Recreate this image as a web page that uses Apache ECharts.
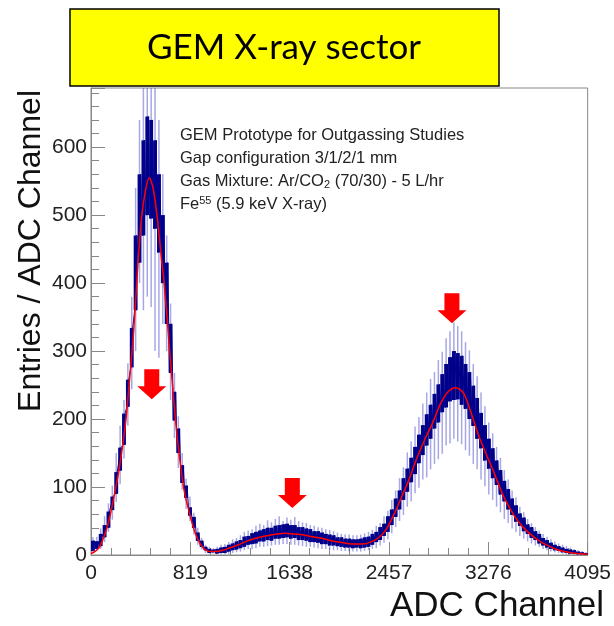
<!DOCTYPE html>
<html><head><meta charset="utf-8">
<script src="https://cdn.jsdelivr.net/npm/echarts@6/dist/echarts.min.js"></script>
<style>html,body{margin:0;padding:0;background:#fff}#c{width:614px;height:626px}</style>
</head><body><div id="c"></div>
<script>
// ---- data ----
const channelsPerSample = 32; // each sample covers 32 ADC channels
const xTickValues = [0, 819, 1638, 2457, 3276, 4095];
// dense (dark blue) band of the histogram: low / high edge per sample
const bandLow = [6, 9, 13, 26, 40, 66, 90, 124, 162, 218, 276, 360, 430, 470, 500, 495, 480, 445, 400, 340, 268, 198, 150, 106, 84, 58, 40, 21, 12, 7, 3, 4,
  2, 3, 3, 5, 7, 8, 10, 12, 15, 16, 17, 20, 20, 22, 21, 24, 24, 25, 26, 24, 25, 22, 22, 21, 19, 19, 18, 16, 16, 14, 14, 13, 12, 11, 11, 10, 11, 10, 11,
  12, 15, 19, 22, 28, 34, 44, 56, 67, 81, 93, 107, 119, 135, 147, 161, 171, 186, 195, 210, 217, 226, 228, 229, 221, 215, 200, 190, 171, 157, 139, 127, 113, 103, 89, 79, 67, 59, 49, 43, 35, 31, 25, 22, 17, 14, 11, 9, 7, 6, 4, 3, 2, 2, 1, 1, 0];
const bandHigh = [21, 20, 31, 44, 64, 86, 122, 158, 208, 258, 334, 470, 560, 610, 645, 640, 610, 560, 500, 430, 340, 240, 186, 132, 102, 70, 56, 33, 21, 12, 9, 8,
  9, 11, 12, 15, 17, 20, 22, 27, 28, 32, 34, 36, 38, 40, 40, 43, 44, 45, 46, 44, 44, 41, 41, 39, 38, 35, 35, 33, 31, 30, 29, 26, 26, 24, 24, 23, 23, 24, 26,
  27, 31, 34, 41, 46, 57, 67, 83, 95, 113, 127, 143, 159, 177, 191, 207, 221, 237, 251, 266, 281, 291, 300, 297, 293, 281, 269, 249, 231, 209, 191, 171, 157, 139, 125, 109, 97, 83, 73, 61, 55, 45, 41, 35, 31, 25, 22, 18, 15, 13, 11, 9, 8, 7, 5, 4, 3];
// light blue fluctuation spikes: low / high extreme per sample
const spikeLow = [4, 6, 9, 19, 34, 52, 78, 104, 142, 190, 244, 300, 400, 360, 380, 365, 300, 290, 340, 300, 228, 172, 128, 96, 68, 50, 30, 15, 8, 3, 2, 2,
  1, 1, 1, 2, 3, 4, 5, 7, 9, 9, 10, 12, 12, 13, 14, 15, 15, 16, 16, 15, 15, 14, 13, 12, 12, 11, 10, 9, 9, 8, 7, 7, 6, 6, 5, 5, 5, 5, 6,
  7, 9, 10, 14, 18, 23, 32, 41, 50, 59, 71, 79, 91, 99, 111, 114, 126, 134, 141, 149, 161, 164, 171, 167, 163, 154, 146, 134, 126, 111, 101, 89, 81, 71, 63, 53, 47, 39, 34, 28, 24, 20, 17, 14, 12, 9, 7, 5, 4, 3, 2, 1, 1, 0, 0, 0, 0];
const spikeHigh = [26, 27, 39, 57, 76, 102, 150, 190, 228, 282, 380, 540, 640, 687, 687, 687, 687, 640, 560, 470, 370, 268, 204, 150, 112, 86, 62, 40, 25, 15, 12, 10,
  12, 15, 16, 19, 23, 25, 29, 34, 36, 38, 43, 46, 44, 51, 48, 53, 57, 50, 55, 52, 56, 50, 48, 47, 44, 43, 41, 40, 38, 37, 35, 33, 31, 30, 30, 29, 29, 30, 32,
  34, 37, 43, 47, 57, 65, 81, 95, 113, 129, 151, 167, 189, 203, 223, 239, 259, 269, 287, 299, 319, 329, 342, 337, 329, 313, 301, 281, 263, 239, 219, 195, 179, 159, 143, 125, 111, 95, 85, 71, 63, 53, 47, 41, 36, 31, 27, 23, 20, 17, 15, 13, 11, 9, 7, 6, 4];
// red fit curve
const fitChannels = [0, 32, 64, 96, 128, 160, 192, 224, 256, 288, 320, 352, 384, 416, 448, 480, 512, 544, 576, 608, 640, 672, 704, 736, 768, 800, 832, 864, 896, 928, 960, 992, 1024,
  1088, 1152, 1216, 1280, 1344, 1408, 1472, 1536, 1600, 1664, 1728, 1792, 1856, 1920, 1984, 2048, 2112, 2176, 2240, 2304, 2368, 2432, 2496, 2560, 2624, 2688, 2752, 2816, 2880, 2944, 3008,
  3072, 3136, 3200, 3264, 3328, 3392, 3456, 3520, 3584, 3648, 3712, 3776, 3840, 3904, 3968, 4032, 4095];
const fitCounts = [2, 5, 10, 22, 38, 60, 88, 118, 155, 199, 262, 330, 420, 495, 535, 555, 540, 500, 445, 390, 320, 250, 185, 135, 95, 70, 48, 30, 18, 10, 6, 5, 5,
  7, 11, 15, 20, 24, 27, 29, 31, 32, 31, 30, 28, 26, 24, 21, 19, 17, 16, 16, 19, 25, 37, 59, 85, 112, 143, 170, 194, 222, 240, 246,
  238, 208, 174, 146, 119, 90, 68, 50, 37, 27, 19, 13, 8, 5, 3, 2, 1];
// red arrows (tip position)
const arrowChannels = [501, 1660, 2976];
const arrowCounts = [229, 69, 341];

const titleText = 'GEM X-ray sector';
const infoLines = [
  'GEM Prototype for Outgassing Studies',
  'Gap configuration 3/1/2/1 mm',
  'Gas Mixture: Ar/CO{sub|2} (70/30) - 5 L/hr',
  'Fe{sup|55} (5.9 keV X-ray)'
];

// ---- build series data ----
const zig = [];
for (let i = 0; i < bandLow.length; i++) {
  const c = i * channelsPerSample;
  zig.push([c + 8, bandLow[i]]);
  zig.push([c + 24, bandHigh[i]]);
}
const band = bandLow.map((v, i) => [i * channelsPerSample, v, bandHigh[i]]);
const spikes = spikeLow.map((v, i) => [i * channelsPerSample + 16, v, spikeHigh[i]]);
const fit = fitChannels.map((c, i) => [c, fitCounts[i]]);
const arrows = arrowChannels.map((c, i) => [c, arrowCounts[i]]);

const FONT = 'Liberation Sans';
const NAVY = '#00008b';
const chart = echarts.init(document.getElementById('c'));
chart.setOption({
  animation: false,
  grid: { left: 91, right: 25, top: 88, bottom: 71, show: true, borderColor: '#888', borderWidth: 1, backgroundColor: '#fff' },
  xAxis: {
    type: 'value', min: 0, max: 4095, interval: 819,
    axisLine: { lineStyle: { color: '#888' } },
    axisTick: { inside: true, length: 13, lineStyle: { color: '#888' } },
    minorTick: { show: true, splitNumber: 5, length: 7, lineStyle: { color: '#888' } },
    splitLine: { show: false },
    axisLabel: { fontSize: 21, color: '#222', fontFamily: FONT, margin: 8,
      formatter: v => xTickValues.includes(v) ? String(v) : '' }
  },
  yAxis: {
    type: 'value', min: 0, max: 687, interval: 100,
    axisLine: { show: true, lineStyle: { color: '#888' } },
    axisTick: { show: true, inside: true, length: 14, lineStyle: { color: '#888' } },
    minorTick: { show: true, splitNumber: 5, length: 8, lineStyle: { color: '#888' } },
    splitLine: { show: false },
    axisLabel: { fontSize: 21, color: '#222', fontFamily: FONT, margin: 4, showMaxLabel: false }
  },
  series: [
    {
      type: 'custom', name: 'spikes', z: 2, silent: true, clip: true,
      data: spikes, encode: { x: 0, y: [1, 2] },
      renderItem: (params, api) => {
        const x = api.value(0);
        const p1 = api.coord([x, api.value(1)]);
        const p2 = api.coord([x, api.value(2)]);
        return { type: 'line', shape: { x1: p1[0], y1: p1[1], x2: p2[0], y2: p2[1] },
          style: { stroke: 'rgba(60,60,200,0.45)', lineWidth: 1.5 } };
      }
    },
    {
      type: 'custom', name: 'band', z: 3, silent: true, clip: true,
      data: band, encode: { x: 0, y: [1, 2] },
      renderItem: (params, api) => {
        const x = api.value(0);
        const p1 = api.coord([x, api.value(2)]);
        const p2 = api.coord([x + channelsPerSample, api.value(1)]);
        return { type: 'rect', shape: { x: p1[0], y: p1[1], width: p2[0] - p1[0], height: Math.max(1.5, p2[1] - p1[1]) },
          style: { fill: NAVY } };
      }
    },
    {
      type: 'line', name: 'histogram', z: 3, data: zig, showSymbol: false, silent: true,
      lineStyle: { color: NAVY, width: 1 }
    },
    {
      type: 'line', name: 'fit', z: 4, data: fit, showSymbol: false, smooth: 0.3, silent: true,
      lineStyle: { color: '#ff0000', width: 1.5 }
    },
    {
      type: 'scatter', name: 'arrows', z: 5, data: arrows, silent: true,
      symbol: 'path://M7,0 L22,0 L22,17 L29,17 L14.5,30 L0,17 L7,17 Z',
      symbolSize: [29, 30], symbolOffset: [0, '-50%'],
      itemStyle: { color: '#ff0000', opacity: 1 }
    }
  ],
  graphic: [
    { type: 'rect', shape: { x: 70, y: 9, width: 429, height: 77 },
      style: { fill: '#ffff00', stroke: '#000', lineWidth: 1.5 }, z: 10 },
    { type: 'text', x: 284, y: 48, z: 11,
      style: { text: titleText, fill: '#000', font: '35px Lato', align: 'center', verticalAlign: 'middle' } },
    { type: 'text', x: 180, y: 124, z: 11,
      style: { text: infoLines.join('\n'), fill: '#222', font: '16.5px "Liberation Sans"', lineHeight: 23,
        rich: {
          sub: { fontSize: 11, fontFamily: FONT, fill: '#222', verticalAlign: 'bottom', lineHeight: 11, padding: [0, 0, 3, 0] },
          sup: { fontSize: 11, fontFamily: FONT, fill: '#222', verticalAlign: 'top', lineHeight: 11, padding: [2, 0, 0, 0] }
        } } },
    { type: 'text', x: 31, y: 90, rotation: Math.PI / 2, z: 11,
      style: { text: 'Entries / ADC Channel', fill: '#111', font: '32px "Liberation Sans"', align: 'right', verticalAlign: 'middle' } },
    { type: 'text', x: 604, y: 606, z: 11,
      style: { text: 'ADC Channel', fill: '#111', font: '35px "Liberation Sans"', align: 'right', verticalAlign: 'middle' } }
  ]
});
</script></body></html>
